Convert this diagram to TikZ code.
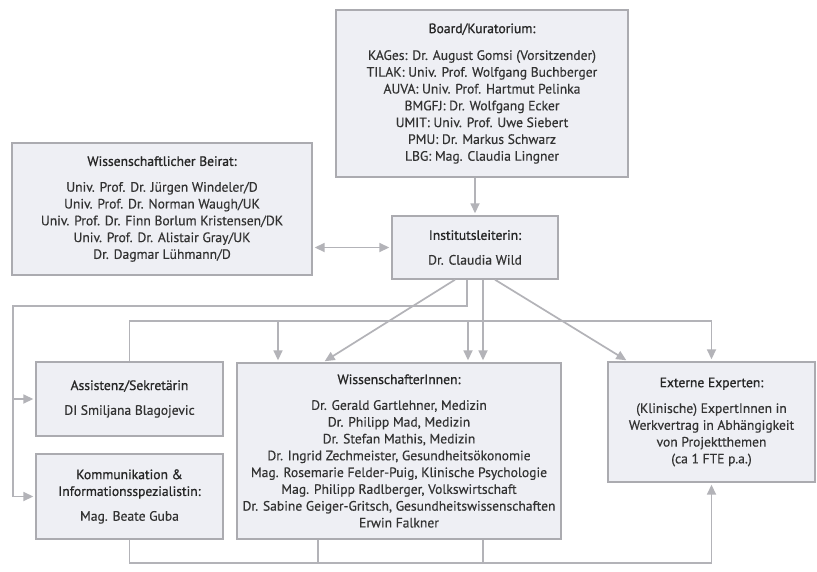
\documentclass[tikz,border=0pt]{standalone}
\usepackage{fontspec}
\setmainfont{PT Sans}[FakeBold=0.4]
\newfontfamily\titfont{PT Sans}[FakeBold=0.9]
\usetikzlibrary{arrows.meta,calc}
\definecolor{boxfill}{HTML}{EEEFF4}
\definecolor{boxline}{HTML}{ABABB0}
\definecolor{connc}{HTML}{B3B3B8}
\definecolor{txt}{HTML}{333333}
\definecolor{titc}{HTML}{262626}
\newcommand\ttl[1]{{\titfont\color{titc}#1}}
\begin{document}
\begin{tikzpicture}[x=1pt,y=-1pt,
  orgbox/.style={draw=boxline,fill=boxfill,line width=1.4pt,inner sep=0pt,align=center,text=txt,font=\fontsize{13.6}{16.8}\selectfont},
  conn/.style={draw=connc,line width=1.7pt},
  arr/.style={conn,-{Triangle[length=10pt,width=9pt]},shorten >=2pt},
  dblarr/.style={conn,{Triangle[length=10pt,width=9pt]}-{Triangle[length=10pt,width=9pt]},shorten >=2pt,shorten <=2pt},
]
\useasboundingbox (0,0) rectangle (817,571);
\fill[white] (0,0) rectangle (817,571);

\node[orgbox,minimum width=292pt,minimum height=167pt] (board) at (482,93.5)
  {\ttl{Board/Kuratorium:}\\[10pt]
   KAGes: Dr. August Gomsi (Vorsitzender)\\
   TILAK: Univ. Prof. Wolfgang Buchberger\\
   AUVA: Univ. Prof. Hartmut Pelinka\\
   BMGFJ: Dr. Wolfgang Ecker\\
   UMIT: Univ. Prof. Uwe Siebert\\
   PMU: Dr. Markus Schwarz\\
   LBG: Mag. Claudia Lingner};

\node[orgbox,minimum width=300pt,minimum height=132pt] (beirat) at (162,209)
  {\ttl{Wissenschaftlicher Beirat:}\\[9pt]
   Univ. Prof. Dr. Jürgen Windeler/D\\
   Univ. Prof. Dr. Norman Waugh/UK\\
   Univ. Prof. Dr. Finn Borlum Kristensen/DK\\
   Univ. Prof. Dr. Alistair Gray/UK\\
   Dr. Dagmar Lühmann/D};

\node[orgbox,minimum width=166pt,minimum height=63pt] (inst) at (475,247.5)
  {\ttl{Institutsleiterin:}\\[8pt] Dr. Claudia Wild};

\node[orgbox,minimum width=187pt,minimum height=74pt] (assist) at (129.5,399)
  {\ttl{Assistenz/Sekretärin}\\[8pt] DI Smiljana Blagojevic};

\node[orgbox,minimum width=187pt,minimum height=85pt] (komm) at (129.5,496.5)
  {\ttl{Kommunikation \&}\\ \ttl{Informationsspezialistin:}\\[8pt] Mag. Beate Guba};

\node[orgbox,minimum width=324pt,minimum height=176pt] (wiss) at (399,451)
  {\ttl{WissenschafterInnen:}\\[9pt]
   Dr. Gerald Gartlehner, Medizin\\
   Dr. Philipp Mad, Medizin\\
   Dr. Stefan Mathis, Medizin\\
   Dr. Ingrid Zechmeister, Gesundheitsökonomie\\
   Mag. Rosemarie Felder-Puig, Klinische Psychologie\\
   Mag. Philipp Radlberger, Volkswirtschaft\\
   Dr. Sabine Geiger-Gritsch, Gesundheitswissenschaften\\
   Erwin Falkner};

\node[orgbox,minimum width=207pt,minimum height=120pt] (ext) at (711.5,422)
  {\ttl{Externe Experten:}\\[9pt]
   (Klinische) ExpertInnen in\\
   Werkvertrag in Abhängigkeit\\
   von Projektthemen\\
   (ca 1 FTE p.a.)};

% connectors
\draw[arr] (board.south -| inst.north) -- (inst.north);
\draw[dblarr] (beirat.east |- inst.west) -- (inst.west);

\draw[arr] ($(inst.south)+(-20,0)$) -- ($(wiss.north)+(-76,0)$);
\draw[arr] ($(inst.south)+(20,0)$) -- ($(ext.north)+(-83.5,0)$);

\coordinate (ia) at ($(inst.south)+(8,0)$);
\draw[arr] (ia) -- (ia |- wiss.north);

\coordinate (lt) at (13,306);
\draw[arr] ($(inst.south)+(-8,0)$) |- (lt) |- (komm.west);
\draw[arr] (lt |- assist.west) -- (assist.west);

\coordinate (bus) at (0,321);
\draw[arr] (assist.north) |- (ext.north |- bus) -- (ext.north);
\coordinate (d1) at (278,321);
\coordinate (d2) at (468,321);
\draw[arr] (d1) -- (d1 |- wiss.north);
\draw[arr] (d2) -- (d2 |- wiss.north);

\coordinate (bb) at (0,563);
\draw[arr] (komm.south) |- (ext.south |- bb) -- (ext.south);
\coordinate (w1) at ($(wiss.south)+(-81,0)$);
\coordinate (w2) at ($(wiss.south)+(84,0)$);
\draw[conn] (w1) -- (w1 |- bb);
\draw[conn] (w2) -- (w2 |- bb);
\end{tikzpicture}
\end{document}
